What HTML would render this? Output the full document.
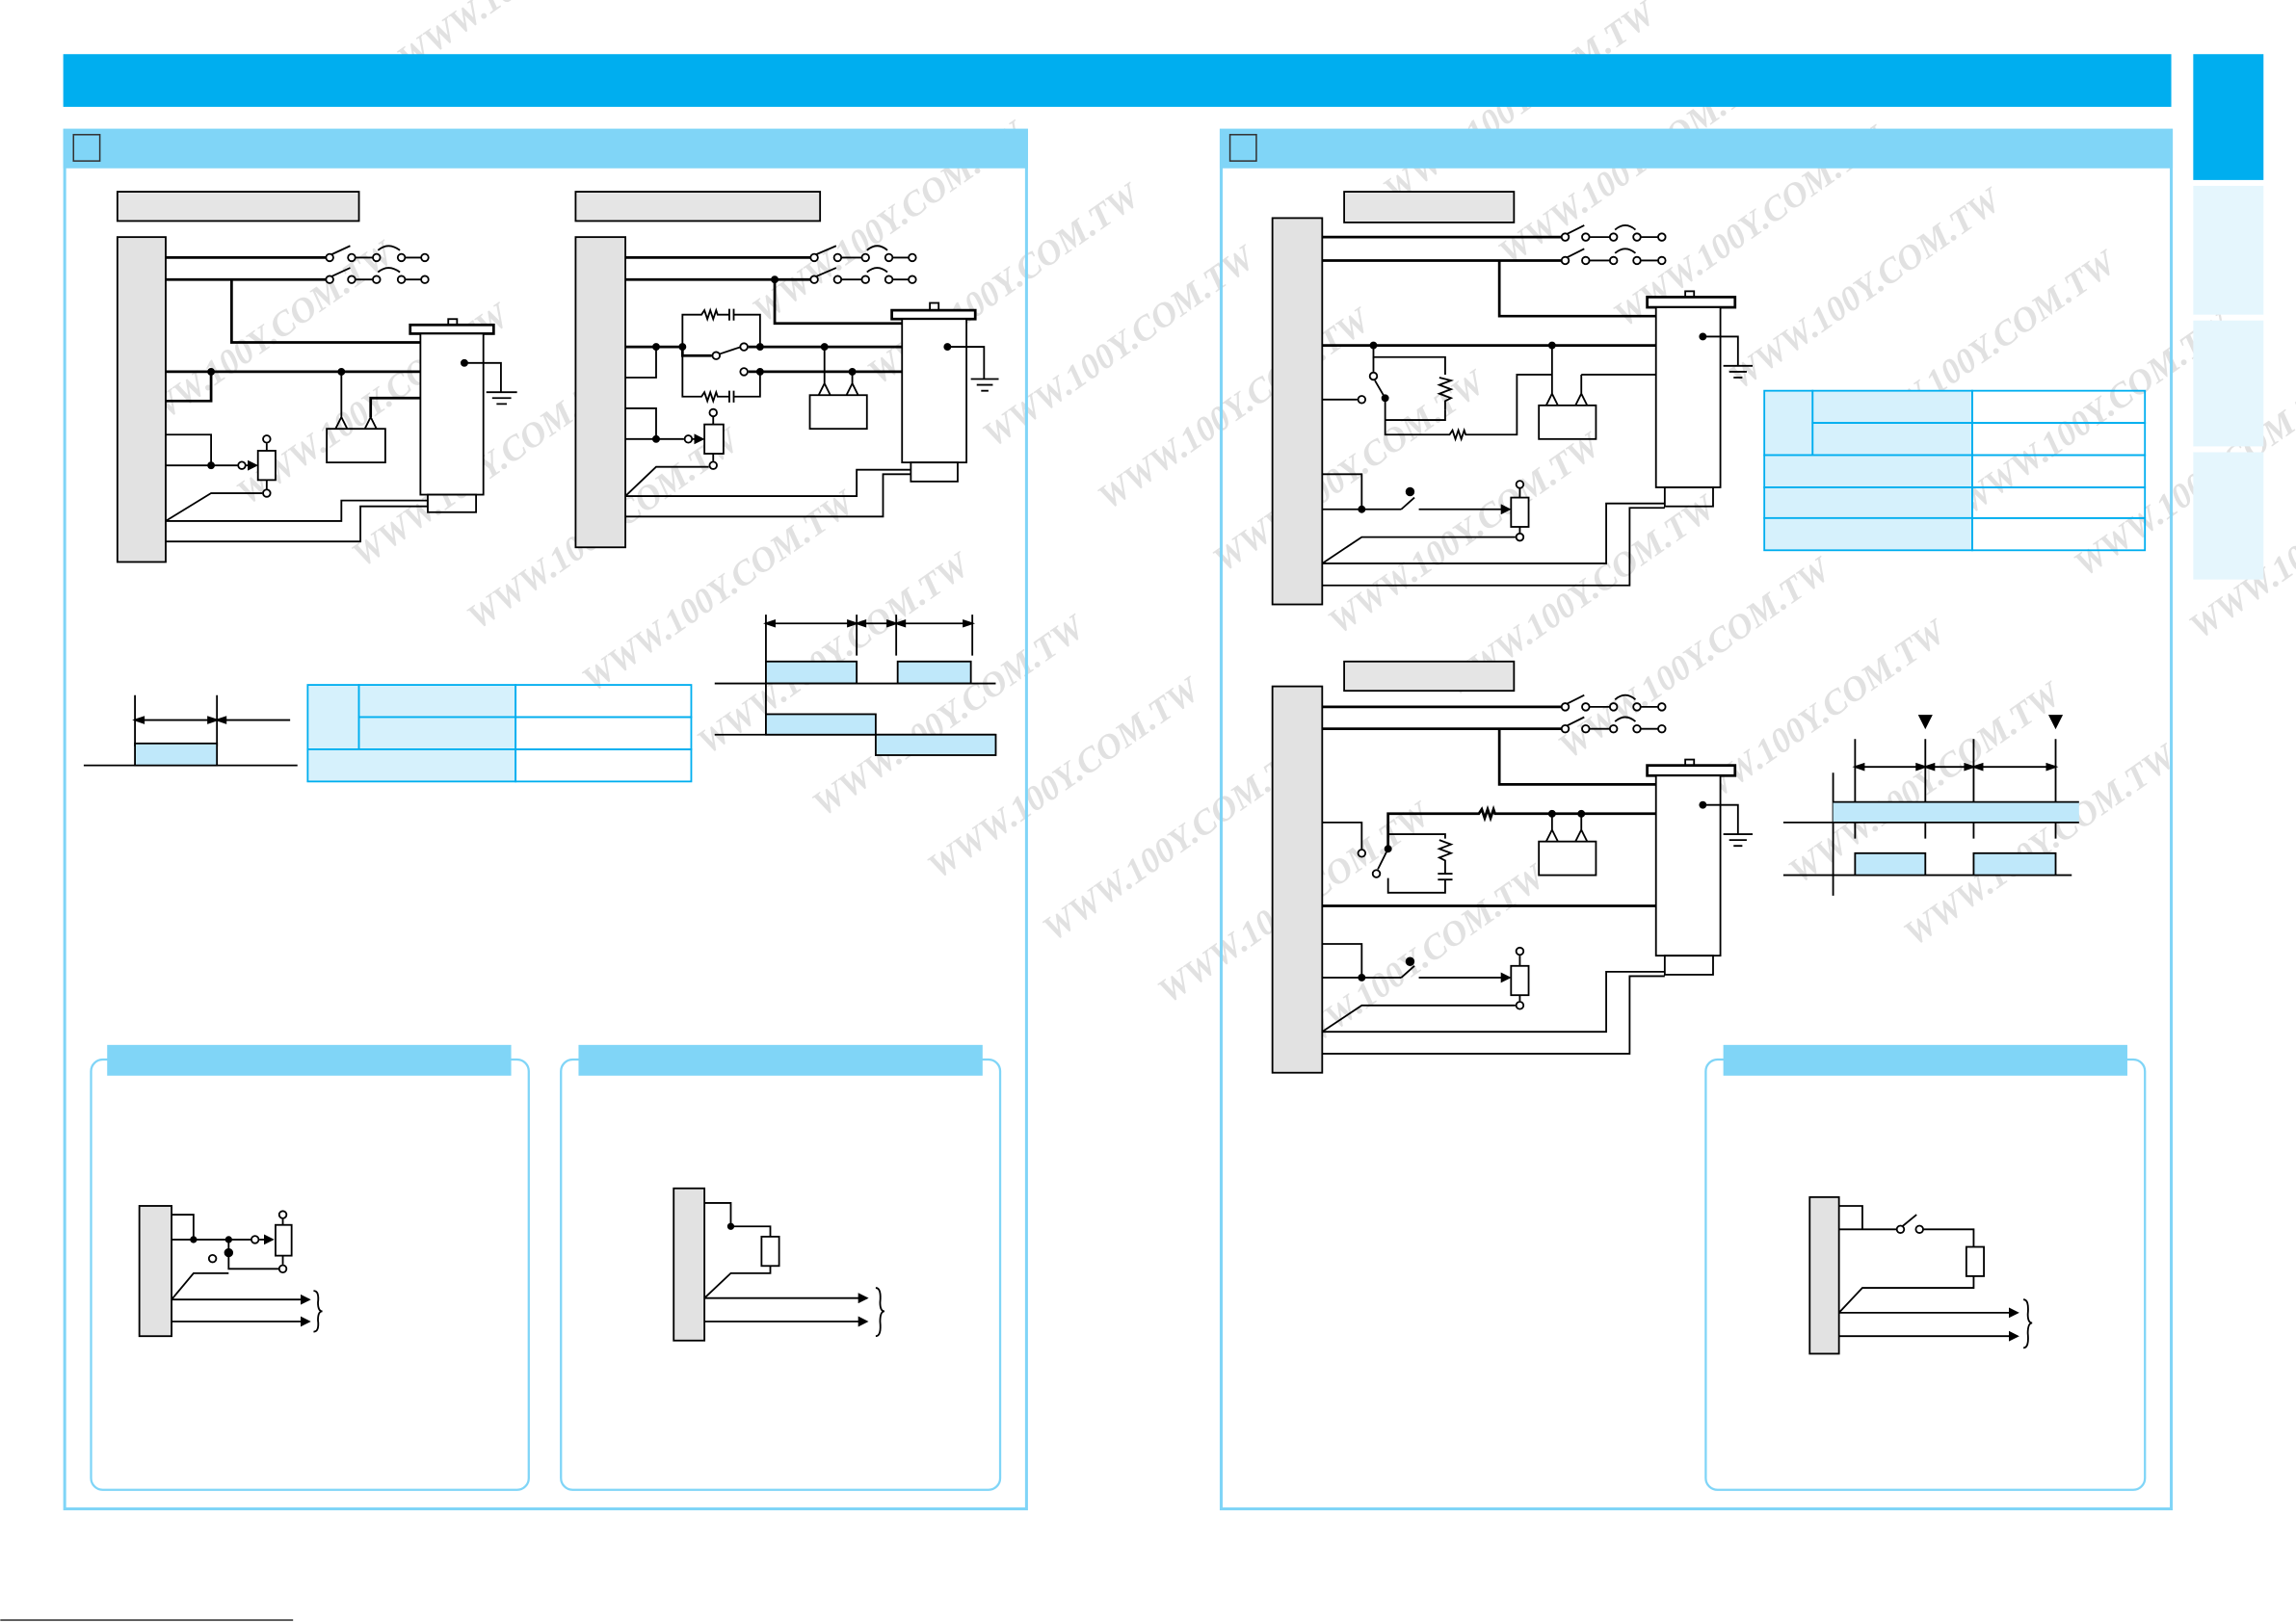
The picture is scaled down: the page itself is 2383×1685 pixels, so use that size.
<!DOCTYPE html>
<html><head><meta charset="utf-8"><style>
html,body{margin:0;padding:0;background:#fff;}
svg{display:block;}
</style></head><body>
<svg width="2383" height="1685" viewBox="0 0 1568 1109" xmlns="http://www.w3.org/2000/svg" font-family="Liberation Serif, serif">
<defs>
<marker id="ar" markerWidth="6" markerHeight="6" refX="5" refY="3" orient="auto"><path d="M0,0 L6,3 L0,6 Z" fill="#000"/></marker>
</defs>
<rect width="1568" height="1109" fill="#fff"/>
<!-- watermarks -->
<g fill="#d8d8d8" font-size="24" font-weight="bold" font-style="italic" opacity="0.75">
<g transform="rotate(-35)">
<text x="-100" y="300">WWW.100Y.COM.TW</text><text x="-60" y="380">WWW.100Y.COM.TW</text>
<text x="-20" y="460">WWW.100Y.COM.TW</text><text x="20" y="540">WWW.100Y.COM.TW</text>
<text x="60" y="620">WWW.100Y.COM.TW</text><text x="100" y="700">WWW.100Y.COM.TW</text>
<text x="140" y="780">WWW.100Y.COM.TW</text><text x="180" y="860">WWW.100Y.COM.TW</text>
<text x="220" y="940">WWW.100Y.COM.TW</text><text x="260" y="1020">WWW.100Y.COM.TW</text>
<text x="300" y="1100">WWW.100Y.COM.TW</text>
<text x="300" y="480">WWW.100Y.COM.TW</text><text x="340" y="560">WWW.100Y.COM.TW</text>
<text x="380" y="640">WWW.100Y.COM.TW</text><text x="420" y="720">WWW.100Y.COM.TW</text>
<text x="460" y="800">WWW.100Y.COM.TW</text><text x="500" y="880">WWW.100Y.COM.TW</text>
<text x="540" y="960">WWW.100Y.COM.TW</text><text x="580" y="1040">WWW.100Y.COM.TW</text>
<text x="620" y="1120">WWW.100Y.COM.TW</text><text x="660" y="1200">WWW.100Y.COM.TW</text>
<text x="700" y="1280">WWW.100Y.COM.TW</text>
<text x="700" y="660">WWW.100Y.COM.TW</text><text x="740" y="740">WWW.100Y.COM.TW</text>
<text x="780" y="820">WWW.100Y.COM.TW</text><text x="820" y="900">WWW.100Y.COM.TW</text>
<text x="860" y="980">WWW.100Y.COM.TW</text><text x="900" y="1060">WWW.100Y.COM.TW</text>
<text x="940" y="1140">WWW.100Y.COM.TW</text><text x="980" y="1220">WWW.100Y.COM.TW</text>
<text x="200" y="200">WWW.100Y.COM.TW</text><text x="450" y="260">WWW.100Y.COM.TW</text>
</g></g>

<!-- header -->
<rect x="43" y="37" width="1440" height="36" fill="#00AEEF"/>
<rect x="1498" y="37" width="48" height="86" fill="#00AEEF"/>
<rect x="1498" y="127" width="48" height="88" fill="#E5F6FD"/>
<rect x="1498" y="219" width="48" height="86" fill="#E5F6FD"/>
<rect x="1498" y="309" width="48" height="87" fill="#E5F6FD"/>

<!-- panels -->
<rect x="44" y="89" width="657" height="942" fill="none" stroke="#80D5F7" stroke-width="2"/>
<rect x="43" y="88" width="659" height="27" fill="#80D5F7"/>
<rect x="50" y="92" width="18" height="18" fill="none" stroke="#333" stroke-width="1"/>
<rect x="834" y="89" width="649" height="942" fill="none" stroke="#80D5F7" stroke-width="2"/>
<rect x="833" y="88" width="651" height="27" fill="#80D5F7"/>
<rect x="840" y="92" width="18" height="18" fill="none" stroke="#333" stroke-width="1"/>

<g stroke="#000" fill="none" stroke-width="1.2">
<!-- ============ LEFT DIAGRAM 1 ============ -->
<rect x="80" y="131" width="165" height="20" fill="#e5e5e5"/>
<rect x="80" y="162" width="33" height="222" fill="#e2e2e2"/>
<path d="M113 176H224 M113 191H224" stroke-width="1.8"/>
<g fill="#fff">
<circle cx="225" cy="176" r="2.5"/><circle cx="240" cy="176" r="2.5"/><circle cx="257" cy="176" r="2.5"/><circle cx="274" cy="176" r="2.5"/><circle cx="290" cy="176" r="2.5"/>
<circle cx="225" cy="191" r="2.5"/><circle cx="240" cy="191" r="2.5"/><circle cx="257" cy="191" r="2.5"/><circle cx="274" cy="191" r="2.5"/><circle cx="290" cy="191" r="2.5"/>
</g>
<path d="M226 174L239 168 M226 189L239 183 M242 176H255 M276 176H288 M242 191H255 M276 191H288 M258 171Q265 165 273 171 M258 186Q265 180 273 186"/>
<path d="M158 191V234H287" stroke-width="1.8"/>
<rect x="280" y="222" width="57" height="6" fill="#fff" stroke-width="1.8"/>
<rect x="306" y="218" width="6" height="4"/>
<rect x="287" y="228" width="43" height="110" fill="#fff"/>
<rect x="292" y="338" width="33" height="12"/>
<circle cx="317" cy="248" r="2" fill="#000"/>
<path d="M317 248H342V268 M332 268H353 M336 272H349 M339 276H346"/>
<path d="M113 254H287" stroke-width="1.8"/>
<path d="M144 254V274H113" stroke-width="1.8"/>
<circle cx="144" cy="254" r="2" fill="#000"/><circle cx="233" cy="254" r="2" fill="#000"/>
<path d="M233 254V286 M229 293L233 285L237 293 M249 293L253 285L257 293"/>
<path d="M253 285V272H287" stroke-width="1.8"/>
<rect x="223" y="293" width="40" height="23"/>
<path d="M113 297H144V318 M113 318H162" />
<circle cx="144" cy="318" r="2" fill="#000"/>
<circle cx="165" cy="318" r="2.5" fill="#fff"/>
<path d="M168 318H175" marker-end="url(#ar)"/>
<rect x="176" y="308" width="12" height="20" fill="#fff"/>
<circle cx="182" cy="300" r="2.5" fill="#fff"/><circle cx="182" cy="337" r="2.5" fill="#fff"/>
<path d="M182 303V308 M182 328V334"/>
<path d="M113 356L144 337H179"/>
<path d="M113 356H233V342H292 M113 370H246V346H292"/>

<!-- ============ LEFT DIAGRAM 2 ============ -->
<rect x="393" y="131" width="167" height="20" fill="#e5e5e5"/>
<rect x="393" y="162" width="34" height="212" fill="#e2e2e2"/>
<path d="M427 176H555 M427 191H555" stroke-width="1.8"/>
<g fill="#fff">
<circle cx="556" cy="176" r="2.5"/><circle cx="572" cy="176" r="2.5"/><circle cx="591" cy="176" r="2.5"/><circle cx="607" cy="176" r="2.5"/><circle cx="623" cy="176" r="2.5"/>
<circle cx="556" cy="191" r="2.5"/><circle cx="572" cy="191" r="2.5"/><circle cx="591" cy="191" r="2.5"/><circle cx="607" cy="191" r="2.5"/><circle cx="623" cy="191" r="2.5"/>
</g>
<path d="M557 174L571 168 M557 189L571 183 M574 176H589 M609 176H621 M574 191H589 M609 191H621 M592 171Q599 165 606 171 M592 186Q599 180 606 186"/>
<circle cx="529" cy="191" r="2" fill="#000"/>
<path d="M529 191V221H616" stroke-width="1.8"/>
<rect x="609" y="212" width="57" height="6" fill="#fff" stroke-width="1.8"/>
<rect x="635" y="207" width="6" height="5"/>
<rect x="616" y="218" width="44" height="98" fill="#fff"/>
<rect x="622" y="316" width="32" height="13"/>
<circle cx="647" cy="237" r="2" fill="#000"/>
<path d="M647 237H672V259 M663 259H682 M667 263H678 M670 267H675"/>
<path d="M427 237H466 M466 237V243H486" stroke-width="1.8"/>
<circle cx="489" cy="243" r="2.5" fill="#fff"/>
<path d="M491 242L506 237"/>
<circle cx="508" cy="237" r="2.5" fill="#fff"/>
<path d="M511 237H616" stroke-width="1.8"/>
<circle cx="508" cy="254" r="2.5" fill="#fff"/>
<path d="M511 254H616" stroke-width="1.8"/>
<circle cx="448" cy="237" r="2" fill="#000"/><circle cx="466" cy="237" r="2" fill="#000"/>
<circle cx="519" cy="237" r="2" fill="#000"/><circle cx="563" cy="237" r="2" fill="#000"/>
<circle cx="519" cy="254" r="2" fill="#000"/><circle cx="582" cy="254" r="2" fill="#000"/>
<path d="M466 237V215H479L481 212L483 218L485 212L487 218L489 212L490 215H498 M498 211V219 M501 211V219 M501 215H519V237"/>
<path d="M466 237V271H479L481 268L483 274L485 268L487 274L489 268L490 271H498 M498 267V275 M501 267V275 M501 271H519V254"/>
<path d="M448 237V258H427"/>
<path d="M563 237V263 M582 254V263 M559 270L563 262L567 270 M578 270L582 262L586 270"/>
<rect x="553" y="270" width="39" height="23"/>
<path d="M427 279H448V300 M427 300H467"/>
<circle cx="448" cy="300" r="2" fill="#000"/>
<circle cx="470" cy="300" r="2.5" fill="#fff"/>
<path d="M473 300H480" marker-end="url(#ar)"/>
<rect x="481" y="290" width="13" height="20" fill="#fff"/>
<circle cx="487" cy="282" r="2.5" fill="#fff"/><circle cx="487" cy="318" r="2.5" fill="#fff"/>
<path d="M487 285V290 M487 310V315"/>
<path d="M427 339L448 319H484"/>
<path d="M427 339H585V321H622 M427 353H603V324H622"/>

<!-- left bottom timing -->
<path d="M92 475V510 M148 475V510 M57 523H203"/>
<path d="M96 492H144 M152 492H198"/>
<path d="M92 492L98 490V494Z M148 492L142 490V494Z M148 492L154 490V494Z" fill="#000"/>
<rect x="92" y="508" width="56" height="15" fill="#BFE8FA"/>

<!-- left table -->
<g stroke="#00AEEF">
<rect x="210" y="468" width="35" height="44" fill="#D6F1FC"/>
<rect x="245" y="468" width="107" height="22" fill="#D6F1FC"/>
<rect x="245" y="490" width="107" height="22" fill="#D6F1FC"/>
<rect x="210" y="512" width="142" height="22" fill="#D6F1FC"/>
<rect x="352" y="468" width="120" height="22" fill="none"/>
<rect x="352" y="490" width="120" height="22" fill="none"/>
<rect x="352" y="512" width="120" height="22" fill="none"/>
</g>

<!-- right timing in left panel -->
<path d="M523 420V502 M585 420V448 M612 420V448 M664 420V448"/>
<path d="M523 426H585 M585 426H612 M612 426H664" />
<path d="M585 426L579 424V428Z M523 426L529 424V428Z M612 426L606 424V428Z M585 426L591 424V428Z M664 426L658 424V428Z M612 426L618 424V428Z" fill="#000"/>
<rect x="523" y="452" width="62" height="15" fill="#BFE8FA"/>
<rect x="613" y="452" width="50" height="15" fill="#BFE8FA"/>
<path d="M488 467H680 M488 502H680"/>
<rect x="523" y="488" width="75" height="14" fill="#BFE8FA"/>
<rect x="598" y="502" width="82" height="14" fill="#BFE8FA"/>

<!-- ============ RIGHT DIAGRAM 1 ============ -->
<rect x="918" y="131" width="116" height="21" fill="#e5e5e5"/>
<rect x="869" y="149" width="34" height="264" fill="#e2e2e2"/>
<path d="M903 162H1067 M903 178H1067" stroke-width="1.8"/>
<g fill="#fff">
<circle cx="1069" cy="162" r="2.5"/><circle cx="1083" cy="162" r="2.5"/><circle cx="1102" cy="162" r="2.5"/><circle cx="1118" cy="162" r="2.5"/><circle cx="1135" cy="162" r="2.5"/>
<circle cx="1069" cy="178" r="2.5"/><circle cx="1083" cy="178" r="2.5"/><circle cx="1102" cy="178" r="2.5"/><circle cx="1118" cy="178" r="2.5"/><circle cx="1135" cy="178" r="2.5"/>
</g>
<path d="M1070 160L1082 154 M1070 176L1082 170 M1085 162H1100 M1120 162H1133 M1085 178H1100 M1120 178H1133 M1103 157Q1110 151 1117 157 M1103 173Q1110 167 1117 173"/>
<path d="M1024 178V216H1131" stroke-width="1.8"/>
<rect x="1125" y="203" width="60" height="7" fill="#fff" stroke-width="1.8"/>
<rect x="1151" y="199" width="6" height="4"/>
<rect x="1131" y="210" width="44" height="123" fill="#fff"/>
<rect x="1137" y="333" width="33" height="13"/>
<circle cx="1163" cy="230" r="2" fill="#000"/>
<path d="M1163 230H1187V250 M1177 250H1197 M1181 254H1193 M1184 258H1190"/>
<path d="M903 236H1131" stroke-width="1.8"/>
<circle cx="938" cy="236" r="2" fill="#000"/><circle cx="1060" cy="236" r="2" fill="#000"/>
<path d="M938 236V244H987V256 M983 258L991 260L983 263L991 266L983 269L991 272L987 274V280"/>
<path d="M938 244V254"/><circle cx="938" cy="257" r="2.5" fill="#fff"/>
<path d="M939 260L946 272"/><circle cx="946" cy="272" r="2" fill="#000"/>
<path d="M946 272V297H990L992 294L994 300L996 294L998 300L1000 294L1001 297H1036V256H1060 M946 287H987V280" />
<path d="M903 273H927"/><circle cx="930" cy="273" r="2.5" fill="#fff"/>
<path d="M1060 236V270 M1080 256V270 M1056 277L1060 269L1064 277 M1076 277L1080 269L1084 277 M1080 256H1131"/>
<rect x="1051" y="277" width="39" height="23"/>
<path d="M903 324H930V348 M903 348H957 M957 348L966 340 M969 348H1027"/>
<circle cx="930" cy="348" r="2" fill="#000"/><circle cx="963" cy="336" r="2.5" fill="#000"/>
<path d="M1027 348H1031" marker-end="url(#ar)"/>
<rect x="1032" y="340" width="12" height="20" fill="#fff"/>
<circle cx="1038" cy="331" r="2.5" fill="#fff"/><circle cx="1038" cy="367" r="2.5" fill="#fff"/>
<path d="M1038 334V340 M1038 360V364"/>
<path d="M903 385L930 367H1035"/>
<path d="M903 385H1097V344H1137 M903 400H1113V347H1137"/>

<!-- right table -->
<g stroke="#00AEEF">
<rect x="1205" y="267" width="33" height="44" fill="#D6F1FC"/>
<rect x="1238" y="267" width="109" height="22" fill="#D6F1FC"/>
<rect x="1238" y="289" width="109" height="22" fill="#D6F1FC"/>
<rect x="1205" y="311" width="142" height="22" fill="#D6F1FC"/>
<rect x="1205" y="333" width="142" height="21" fill="#D6F1FC"/>
<rect x="1205" y="354" width="142" height="22" fill="#D6F1FC"/>
<rect x="1347" y="267" width="118" height="22"/>
<rect x="1347" y="289" width="118" height="22"/>
<rect x="1347" y="311" width="118" height="22"/>
<rect x="1347" y="333" width="118" height="21"/>
<rect x="1347" y="354" width="118" height="22"/>
</g>

<!-- ============ RIGHT DIAGRAM 2 ============ -->
<rect x="918" y="452" width="116" height="20" fill="#e5e5e5"/>
<rect x="869" y="469" width="34" height="264" fill="#e2e2e2"/>
<path d="M903 483H1067 M903 498H1067" stroke-width="1.8"/>
<g fill="#fff">
<circle cx="1069" cy="483" r="2.5"/><circle cx="1083" cy="483" r="2.5"/><circle cx="1102" cy="483" r="2.5"/><circle cx="1118" cy="483" r="2.5"/><circle cx="1135" cy="483" r="2.5"/>
<circle cx="1069" cy="498" r="2.5"/><circle cx="1083" cy="498" r="2.5"/><circle cx="1102" cy="498" r="2.5"/><circle cx="1118" cy="498" r="2.5"/><circle cx="1135" cy="498" r="2.5"/>
</g>
<path d="M1070 481L1082 475 M1070 496L1082 490 M1085 483H1100 M1120 483H1133 M1085 498H1100 M1120 498H1133 M1103 478Q1110 472 1117 478 M1103 493Q1110 487 1117 493"/>
<path d="M1024 498V536H1131" stroke-width="1.8"/>
<rect x="1125" y="523" width="60" height="7" fill="#fff" stroke-width="1.8"/>
<rect x="1151" y="519" width="6" height="4"/>
<rect x="1131" y="530" width="44" height="123" fill="#fff"/>
<rect x="1137" y="653" width="33" height="13"/>
<circle cx="1163" cy="550" r="2" fill="#000"/>
<path d="M1163 550H1187V570 M1177 570H1197 M1181 574H1193 M1184 578H1190"/>
<path d="M948 580V556H1010L1012 553L1014 559L1016 553L1018 559L1020 553L1021 556H1131" stroke-width="1.8"/>
<circle cx="1060" cy="556" r="2" fill="#000"/><circle cx="1080" cy="556" r="2" fill="#000"/>
<path d="M1060 556V568 M1080 556V568 M1056 575L1060 567L1064 575 M1076 575L1080 567L1084 575"/>
<rect x="1051" y="575" width="39" height="23"/>
<path d="M903 562H930V580"/><circle cx="930" cy="583" r="2.5" fill="#fff"/>
<circle cx="948" cy="580" r="2" fill="#000"/>
<path d="M948 580L941 594"/><circle cx="940" cy="597" r="2.5" fill="#fff"/>
<path d="M948 580V570H987V573 M983 574L991 577L983 580L991 583L983 586L987 588V597 M982 597H992 M982 601H992 M987 601V610H948V600"/>
<path d="M903 619H1131" stroke-width="1.8"/>
<path d="M903 645H930V668 M903 668H957 M957 668L966 660 M969 668H1027"/>
<circle cx="930" cy="668" r="2" fill="#000"/><circle cx="963" cy="657" r="2.5" fill="#000"/>
<path d="M1027 668H1031" marker-end="url(#ar)"/>
<rect x="1032" y="660" width="12" height="20" fill="#fff"/>
<circle cx="1038" cy="650" r="2.5" fill="#fff"/><circle cx="1038" cy="687" r="2.5" fill="#fff"/>
<path d="M1038 653V660 M1038 680V684"/>
<path d="M903 705L930 687H1035"/>
<path d="M903 705H1097V664H1137 M903 720H1113V667H1137"/>

<!-- right timing -->
<path d="M1252 528V612 M1267 505V573 M1315 505V573 M1348 505V573 M1404 505V573"/>
<path d="M1267 524H1315 M1315 524H1348 M1348 524H1404"/>
<path d="M1267 524L1273 522V526Z M1315 524L1309 522V526Z M1315 524L1321 522V526Z M1348 524L1342 522V526Z M1348 524L1354 522V526Z M1404 524L1398 522V526Z" fill="#000"/>
<path d="M1311 489H1319L1315 497Z M1400 489H1408L1404 497Z" fill="#000"/>
<rect x="1252" y="548" width="168" height="14" fill="#BFE8FA" stroke="none"/>
<path d="M1252 548H1420 M1218 562H1420"/>
<path d="M1218 598H1415"/>
<rect x="1267" y="583" width="48" height="15" fill="#BFE8FA"/>
<rect x="1348" y="583" width="56" height="15" fill="#BFE8FA"/>

<!-- ============ BOTTOM BOXES ============ -->
<g stroke="#80D5F7" stroke-width="1.5">
<rect x="62" y="724" width="299" height="294" rx="8" fill="none"/>
<rect x="383" y="724" width="300" height="294" rx="8" fill="none"/>
<rect x="1165" y="724" width="300" height="294" rx="8" fill="none"/>
</g>
<rect x="73" y="714" width="276" height="21" fill="#80D5F7" stroke="none"/>
<rect x="395" y="714" width="276" height="21" fill="#80D5F7" stroke="none"/>
<rect x="1177" y="714" width="276" height="21" fill="#80D5F7" stroke="none"/>

<!-- small circuit 1 -->
<rect x="95" y="824" width="22" height="89" fill="#e2e2e2"/>
<path d="M117 830H132V847 M117 847H171"/>
<circle cx="132" cy="847" r="1.8" fill="#000"/><circle cx="156" cy="847" r="1.8" fill="#000"/>
<circle cx="174" cy="847" r="2.5" fill="#fff"/>
<path d="M177 847H186" marker-end="url(#ar)"/>
<rect x="188" y="837" width="11" height="21" fill="#fff"/>
<circle cx="193" cy="830" r="2.5" fill="#fff"/><circle cx="193" cy="867" r="2.5" fill="#fff"/>
<path d="M193 833V837 M193 858V864"/>
<path d="M156 847V867H190"/><circle cx="156" cy="856" r="2.5" fill="#000"/>
<circle cx="145" cy="860" r="2.5" fill="#fff"/>
<path d="M117 888L132 870H156"/>
<path d="M117 888H211" marker-end="url(#ar)"/>
<path d="M117 903H211" marker-end="url(#ar)"/>
<path d="M214 882Q218 882 217 890Q217 896 220 896Q217 896 217 902Q218 910 214 910"/>

<!-- small circuit 2 -->
<rect x="460" y="812" width="21" height="104" fill="#e2e2e2"/>
<path d="M481 822H499V838H526V845"/>
<circle cx="499" cy="838" r="1.8" fill="#000"/>
<rect x="520" y="845" width="12" height="20" fill="#fff"/>
<path d="M526 865V870H499L481 887"/>
<path d="M481 887H592" marker-end="url(#ar)"/>
<path d="M481 903H592" marker-end="url(#ar)"/>
<path d="M598 880Q602 880 601 890Q601 896 604 896Q601 896 601 903Q602 913 598 913"/>

<!-- small circuit 3 -->
<rect x="1236" y="818" width="20" height="107" fill="#e2e2e2"/>
<path d="M1256 824H1272V840 M1256 840H1296 M1298 839L1309 830 M1313 840H1348V852"/>
<circle cx="1298" cy="840" r="2.5" fill="#fff"/><circle cx="1311" cy="840" r="2.5" fill="#fff"/>
<rect x="1343" y="852" width="12" height="20" fill="#fff"/>
<path d="M1348 872V880H1272L1256 897"/>
<path d="M1256 897H1378" marker-end="url(#ar)"/>
<path d="M1256 913H1378" marker-end="url(#ar)"/>
<path d="M1382 888Q1386 888 1385 898Q1385 904 1388 904Q1385 904 1385 911Q1386 921 1382 921"/>

<path d="M0 1107H200" stroke-width="0.8"/>
</g>
</svg>
</body></html>
